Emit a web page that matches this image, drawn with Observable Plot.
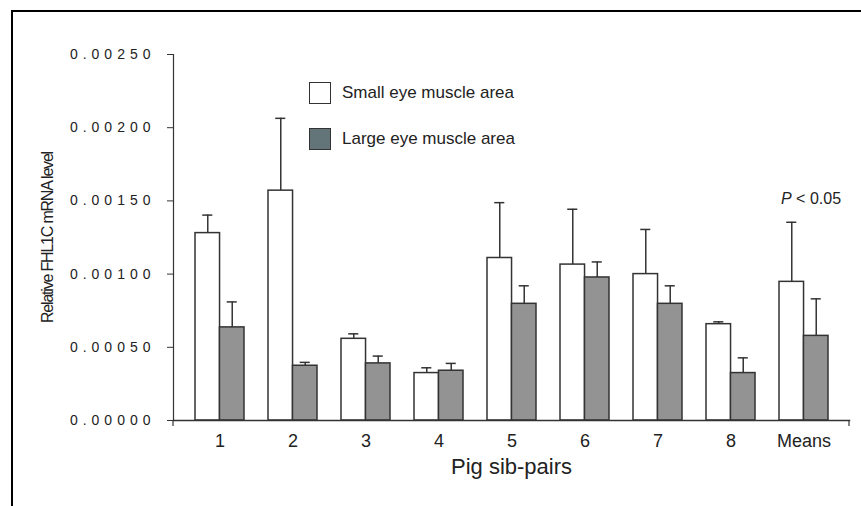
<!DOCTYPE html>
<html>
<head>
<meta charset="utf-8">
<script src="https://cdn.jsdelivr.net/npm/d3@7"></script>
<script src="https://cdn.jsdelivr.net/npm/@observablehq/plot@0.6"></script>
<style>
  html, body { margin: 0; padding: 0; background: #fff; overflow: hidden; }
  body { font-family: "Liberation Sans", Arial, sans-serif; }
  #wrap { position: relative; width: 861px; height: 506px; overflow: hidden; }
  #border { position: absolute; left: 11px; top: 10px; width: 900px; height: 600px;
            border-top: 2px solid #000; border-left: 2px solid #000; pointer-events: none; }
  #chart { position: absolute; left: 0; top: 0; }
  .legend { position: absolute; left: 309px; top: 82px; font-size: 17px; color: #222; }
  .item { display: flex; align-items: center; height: 22px; margin-bottom: 24px; white-space: nowrap; }
  .sw { width: 22px; height: 22px; box-sizing: border-box; border: 1px solid #333; margin-right: 11px; }
</style>
</head>
<body>
<div id="wrap">
  <div id="chart"></div>
  <div id="border"></div>
  <div class="legend" id="legend"></div>
</div>
<script>
// ---- Data ----
const groups = ["1", "2", "3", "4", "5", "6", "7", "8", "Means"];
const smallArea = [0.00128, 0.00157, 0.000558, 0.000324, 0.00111, 0.001065, 0.0010, 0.000658, 0.000947];
const smallErr  = [0.000123, 0.000494, 0.000034, 0.000036, 0.000378, 0.000378, 0.000305, 0.000016, 0.000407];
const largeArea = [0.000636, 0.000374, 0.00039, 0.00034, 0.000797, 0.000977, 0.000797, 0.000324, 0.000578];
const largeErr  = [0.000174, 0.000023, 0.00005, 0.00005, 0.000123, 0.000106, 0.000123, 0.000104, 0.000253];
const yTicks = [0, 0.0005, 0.001, 0.0015, 0.002, 0.0025];
const seriesNames = ["Small eye muscle area", "Large eye muscle area"];
const legendColors = ["#ffffff", "#637579"];
const yTitle = "Relative FHL1C mRNA level";
const xTitle = "Pig sib-pairs";
const pLabel = "P < 0.05";

const rows = groups.map((g, i) => ({
  group: g, small: smallArea[i], smallErr: smallErr[i], large: largeArea[i], largeErr: largeErr[i]
}));

// ---- Layout ----
const W = 861, H = 506, mL = 173, mR = 12, mT = 54, mB = 86;
const padIn = 0.333, padOut = 0.275;
const xs = Plot.scale({x: {type: "band", domain: groups, range: [mL, W - mR], paddingInner: padIn, paddingOuter: padOut}});
const bw = xs.bandwidth;
const cap = 5;
const ink = "#333";

const chart = Plot.plot({
  width: W, height: H,
  marginLeft: mL, marginRight: mR, marginTop: mT, marginBottom: mB,
  style: {fontFamily: "'Liberation Sans', Arial, sans-serif", color: "#222", background: "transparent"},
  x: {type: "band", domain: groups, paddingInner: padIn, paddingOuter: padOut, label: null},
  y: {domain: [0, 0.0025], label: null},
  marks: [
    Plot.barY(rows, {x: "group", y: "small", fill: "#ffffff", stroke: ink, strokeWidth: 1.5, insetRight: bw / 2}),
    Plot.barY(rows, {x: "group", y: "large", fill: "#939393", stroke: ink, strokeWidth: 1.5, insetLeft: bw / 2}),
    Plot.ruleX(rows, {x: "group", y1: "small", y2: d => d.small + d.smallErr, dx: -bw / 4, stroke: ink, strokeWidth: 1.5}),
    Plot.tickY(rows, {x: "group", y: d => d.small + d.smallErr, insetLeft: bw / 4 - cap, insetRight: 3 * bw / 4 - cap, stroke: ink, strokeWidth: 1.5}),
    Plot.ruleX(rows, {x: "group", y1: "large", y2: d => d.large + d.largeErr, dx: bw / 4, stroke: ink, strokeWidth: 1.5}),
    Plot.tickY(rows, {x: "group", y: d => d.large + d.largeErr, insetLeft: 3 * bw / 4 - cap, insetRight: bw / 4 - cap, stroke: ink, strokeWidth: 1.5}),
    Plot.frame({anchor: "left", stroke: ink, strokeWidth: 1.2}),
    Plot.frame({anchor: "bottom", stroke: ink, strokeWidth: 1.5}),
    Plot.axisY({ticks: yTicks, tickFormat: d3.format(".5f"), tickSize: 6, tickPadding: 12, fontSize: 14, stroke: ink, label: null}),
    Plot.axisX({tickSize: 0, tickPadding: 14, fontSize: 18, label: null}),
    Plot.text([yTitle], {frameAnchor: "left", textAnchor: "middle", rotate: -90, dx: -126, fontSize: 16}),
    Plot.text([xTitle], {frameAnchor: "bottom", dy: 53, fontSize: 22}),
    Plot.text(rows.filter(d => d.group === "Means"), {x: "group", y: d => d.small + d.smallErr, text: () => pLabel, dx: 7, dy: -23, fontSize: 16})
  ]
});

document.getElementById("chart").appendChild(chart);

const svg = d3.select(chart);
svg.selectAll('g[aria-label="y-axis tick label"] text').style("letter-spacing", "5px");
svg.selectAll("text").each(function () {
  const t = d3.select(this);
  const s = this.textContent;
  if (s === yTitle) t.style("letter-spacing", "-1.2px");
  if (s === pLabel) {
    t.text(null);
    t.append("tspan").style("font-style", "italic").text(pLabel.slice(0, 1));
    t.append("tspan").text(pLabel.slice(1));
  }
});

// small end ticks below the category axis line, at both ends of the frame
const [x0, x1] = xs.range;
const y0 = H - mB;
svg.append("g").attr("stroke", ink).attr("stroke-width", 1.2)
  .selectAll("line").data([x0, x1]).join("line")
  .attr("x1", d => d).attr("x2", d => d).attr("y1", y0).attr("y2", y0 + 6);

// Legend
const leg = d3.select("#legend");
seriesNames.forEach((name, i) => {
  const it = leg.append("div").attr("class", "item");
  it.append("div").attr("class", "sw").style("background", legendColors[i]);
  it.append("span").text(name);
});
</script>
</body>
</html>
